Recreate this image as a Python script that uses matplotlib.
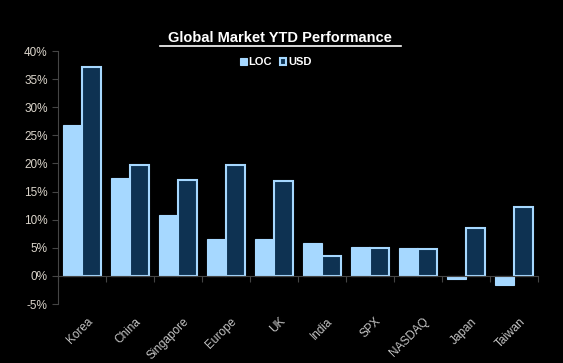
import numpy as np
import matplotlib.pyplot as plt
from matplotlib.ticker import FuncFormatter

plt.rcParams['font.family'] = ['Liberation Sans', 'DejaVu Sans']

# Data (YTD performance, %)
markets = ["Korea", "China", "Singapore", "Europe", "UK", "India", "SPX", "NASDAQ", "Japan", "Taiwan"]
loc_ret = [26.8, 17.5, 10.8, 6.5, 6.5, 5.9, 5.1, 4.9, -0.6, -1.7]
usd_ret = [37.1, 19.7, 17.0, 19.7, 16.8, 3.6, 5.0, 4.7, 8.5, 12.2]

light = "#a6d8ff"
dark = "#0e3252"
grid_col = "#454545"

fig = plt.figure(figsize=(5.63, 3.63), dpi=100, facecolor="black")
ax = fig.add_axes([0.103, 0.1625, 0.853, 0.697], facecolor="black")

x = np.arange(len(markets))
w = 0.39
ax.bar(x - w / 2, loc_ret, w, color=light, edgecolor=light, linewidth=0.8, label="LOC", zorder=2)
ax.bar(x + w / 2, usd_ret, w, color=dark, edgecolor=light, linewidth=1.5, label="USD", zorder=2)

ax.set_xlim(-0.5, len(markets) - 0.5)
ax.set_ylim(-5, 40)
ax.set_yticks(np.arange(-5, 41, 5))
ax.yaxis.set_major_formatter(FuncFormatter(lambda v, p: f"{v:.0f}%"))

# spines
for s in ["top", "right"]:
    ax.spines[s].set_visible(False)
ax.spines["left"].set_color(grid_col)
ax.spines["bottom"].set_color(grid_col)
ax.spines["bottom"].set_position(("data", 0))
ax.spines["bottom"].set_zorder(3)

ax.set_xticks(np.arange(len(markets) + 1) - 0.5)
ax.set_xticklabels([])
ax.tick_params(axis="x", colors=grid_col, length=4, direction="out")
ax.tick_params(axis="y", colors=grid_col, length=4, direction="out", labelcolor="#dcd6cc", labelsize=8.5)

# category labels below the plot
for i, name in enumerate(markets):
    ax.text(i + 0.1, -0.045, name, transform=ax.get_xaxis_transform(),
            rotation=45, ha="right", va="top", rotation_mode="anchor",
            color="#c4c4c4", fontsize=8.5)

fig.text(0.497, 0.895, "Global Market YTD Performance", ha="center", va="center",
         color="white", fontsize=10.5, fontweight="bold")
fig.add_artist(plt.Line2D([0.284, 0.712], [0.873, 0.873], color="white", lw=1.2))

leg = ax.legend(loc="center", bbox_to_anchor=(0.49, 0.829), bbox_transform=fig.transFigure,
                ncol=2, frameon=False, handlelength=0.6, handleheight=0.6,
                handletextpad=0.15, columnspacing=0.7,
                prop={"weight": "bold", "size": 8})
for t in leg.get_texts():
    t.set_color("white")

fig.savefig("out.png", dpi=100, facecolor="black")
